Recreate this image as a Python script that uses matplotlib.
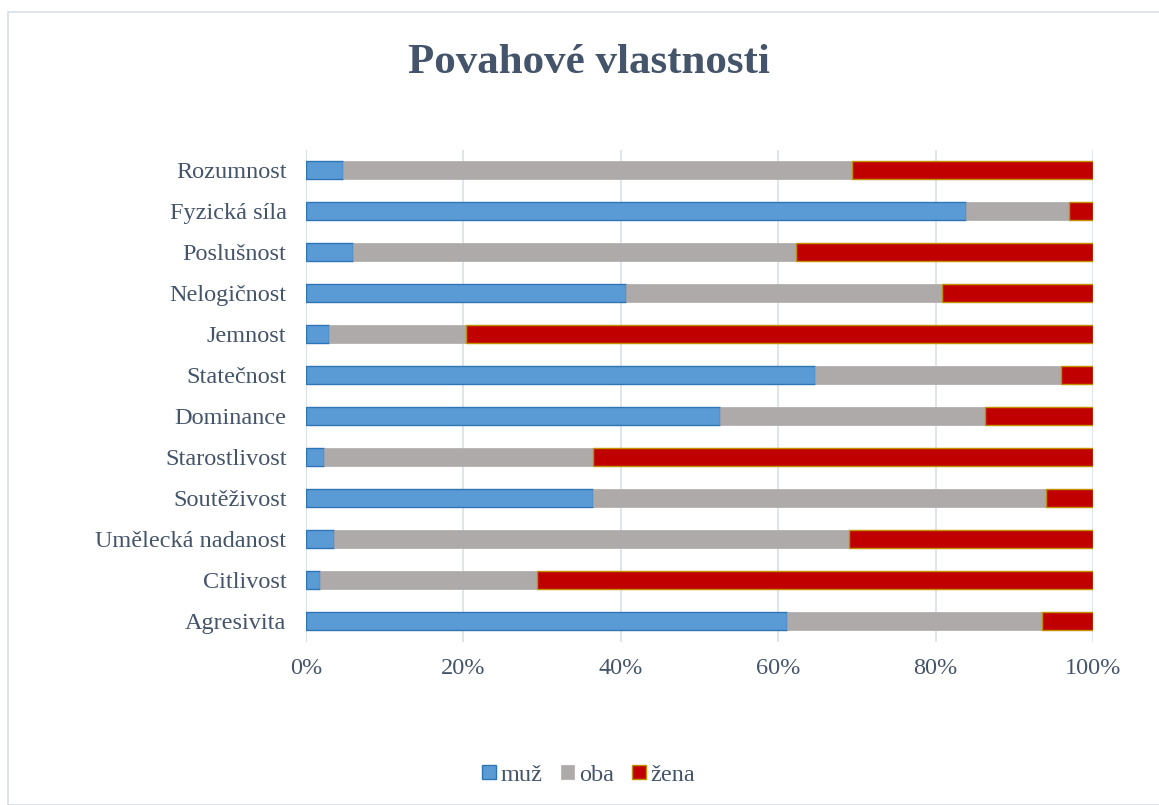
import matplotlib
matplotlib.use('Agg')
import matplotlib.pyplot as plt
import numpy as np
from matplotlib.patches import Rectangle
from matplotlib.ticker import PercentFormatter

plt.rcParams['font.family'] = ['Liberation Serif', 'DejaVu Serif']

categories = ['Agresivita', 'Citlivost', 'Umělecká nadanost', 'Soutěživost',
              'Starostlivost', 'Dominance', 'Statečnost', 'Jemnost',
              'Nelogičnost', 'Poslušnost', 'Fyzická síla', 'Rozumnost']
muz = [61.1, 1.8, 3.6, 36.5, 2.3, 52.6, 64.7, 2.9, 40.7, 6.0, 83.9, 4.7]
oba = [32.4, 27.6, 65.4, 57.5, 34.2, 33.7, 31.2, 17.4, 40.1, 56.3, 13.1, 64.7]
zena = [6.5, 70.6, 31.0, 6.0, 63.5, 13.7, 4.1, 79.7, 19.2, 37.7, 3.0, 30.6]

txt = '#44546A'
fig = plt.figure(figsize=(11.59, 8.05), dpi=100)
ax = fig.add_axes([0.264, 0.203, 0.679, 0.611])

y = np.arange(len(categories))
muz = np.array(muz)
oba = np.array(oba)
zena = np.array(zena)
h = 0.44
ax.barh(y, muz, height=h, color='#5B9BD5', edgecolor='#2E75B6', linewidth=1.0, label='muž', zorder=3)
ax.barh(y, oba, left=muz, height=h, color='#AEAAAA', edgecolor='#AEAAAA', linewidth=0.5, label='oba', zorder=3)
ax.barh(y, zena, left=muz + oba, height=h, color='#C00000', edgecolor='#BF9000', linewidth=1.0, label='žena', zorder=3)

ax.set_xlim(0, 100)
ax.set_ylim(-0.5, len(categories) - 0.5)
ax.set_yticks(y)
ax.set_yticklabels(categories)
ax.set_xticks([0, 20, 40, 60, 80, 100])
ax.xaxis.set_major_formatter(PercentFormatter(decimals=0))
ax.tick_params(axis='both', length=0, labelsize=17.5, labelcolor=txt)
ax.tick_params(axis='x', pad=12)
ax.tick_params(axis='y', pad=14)
ax.grid(axis='x', color='#DDE3EA', linewidth=1.3, zorder=0)
for s in ax.spines.values():
    s.set_visible(False)
ax.axvline(0, color='#D9DEE6', linewidth=1.3, zorder=1)

fig.text(0.508, 0.922, 'Povahové vlastnosti', ha='center', va='center',
         fontsize=31, fontweight='bold', color=txt)

ax.legend(loc='center', bbox_to_anchor=(0.5, 0.5), bbox_transform=fig.transFigure,
          ncol=3, frameon=False, fontsize=17.5, labelcolor=txt,
          handlelength=0.55, handleheight=0.55, handletextpad=0.2, columnspacing=0.75)
leg = ax.get_legend()
leg.set_bbox_to_anchor((0.508, 0.037), transform=fig.transFigure)

fig.patches.append(Rectangle((8 / 1159, 0), 1.2, 1 - 12 / 805, transform=fig.transFigure,
                             fill=False, edgecolor='#D9DEE6', linewidth=1.2, zorder=0))

fig.savefig('out.png', dpi=100)
